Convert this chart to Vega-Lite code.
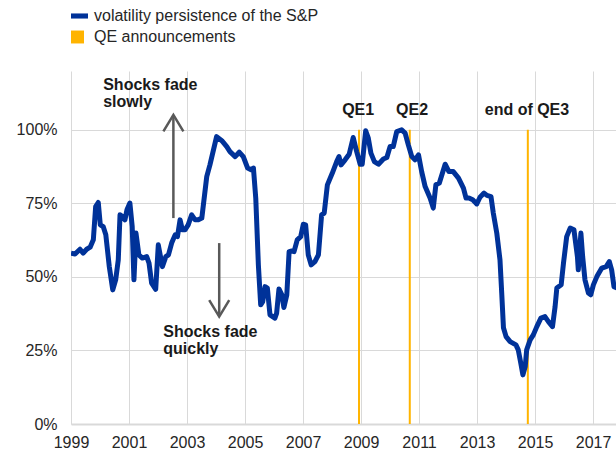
{
  "$schema": "https://vega.github.io/schema/vega-lite/v6.json",
  "width": 545,
  "height": 353,
  "autosize": {"type": "none"},
  "padding": {"left": 71, "top": 71, "right": 0, "bottom": 29},
  "background": "white",
  "config": {
    "font": "Liberation Sans",
    "view": {"stroke": null}
  },
  "datasets": {
    "series": [
      {"t":1999.00,"v":58.1},{"t":1999.14,"v":57.8},{"t":1999.31,"v":59.4},{"t":1999.42,"v":58.1},{"t":1999.54,"v":59.4},{"t":1999.66,"v":60.1},{"t":1999.77,"v":62.6},{"t":1999.85,"v":73.9},{"t":1999.94,"v":75.3},{"t":2000.01,"v":67.7},
      {"t":2000.11,"v":67.1},{"t":2000.20,"v":64.3},{"t":2000.32,"v":53.5},{"t":2000.44,"v":45.6},{"t":2000.54,"v":49.0},{"t":2000.63,"v":55.8},{"t":2000.69,"v":71.1},{"t":2000.77,"v":70.5},{"t":2000.86,"v":69.4},{"t":2000.93,"v":72.8},
      {"t":2001.03,"v":75.1},{"t":2001.11,"v":67.1},{"t":2001.17,"v":49.0},{"t":2001.24,"v":64.9},{"t":2001.34,"v":57.5},{"t":2001.46,"v":56.4},{"t":2001.61,"v":56.9},{"t":2001.69,"v":54.7},{"t":2001.78,"v":47.9},{"t":2001.92,"v":45.8},
      {"t":2002.01,"v":60.9},{"t":2002.15,"v":53.5},{"t":2002.27,"v":56.9},{"t":2002.36,"v":57.5},{"t":2002.47,"v":61.5},{"t":2002.59,"v":64.3},{"t":2002.67,"v":63.7},{"t":2002.76,"v":69.4},{"t":2002.84,"v":66.0},{"t":2002.93,"v":66.0},
      {"t":2003.04,"v":67.7},{"t":2003.16,"v":71.1},{"t":2003.28,"v":69.4},{"t":2003.39,"v":69.4},{"t":2003.51,"v":70.0},{"t":2003.68,"v":84.1},{"t":2003.79,"v":88.1},{"t":2004.02,"v":97.7},{"t":2004.20,"v":96.3},{"t":2004.37,"v":94.3},
      {"t":2004.48,"v":92.6},{"t":2004.66,"v":90.9},{"t":2004.80,"v":92.4},{"t":2004.94,"v":90.9},{"t":2005.09,"v":87.0},{"t":2005.21,"v":86.4},{"t":2005.29,"v":87.0},{"t":2005.37,"v":76.8},{"t":2005.46,"v":54.1},{"t":2005.54,"v":40.5},
      {"t":2005.61,"v":41.6},{"t":2005.69,"v":46.7},{"t":2005.77,"v":46.2},{"t":2005.86,"v":37.1},{"t":2006.03,"v":36.0},{"t":2006.09,"v":37.7},{"t":2006.17,"v":45.9},{"t":2006.27,"v":43.9},{"t":2006.34,"v":39.6},{"t":2006.44,"v":43.9},
      {"t":2006.52,"v":58.6},{"t":2006.61,"v":58.8},{"t":2006.69,"v":58.6},{"t":2006.80,"v":62.6},{"t":2006.92,"v":63.7},{"t":2007.01,"v":67.9},{"t":2007.09,"v":67.7},{"t":2007.18,"v":57.5},{"t":2007.28,"v":54.1},{"t":2007.41,"v":55.2},
      {"t":2007.53,"v":57.5},{"t":2007.64,"v":71.1},{"t":2007.73,"v":71.7},{"t":2007.84,"v":81.3},{"t":2008.01,"v":85.3},{"t":2008.16,"v":89.2},{"t":2008.24,"v":90.9},{"t":2008.31,"v":88.1},{"t":2008.45,"v":89.8},{"t":2008.59,"v":91.7},
      {"t":2008.73,"v":97.4},{"t":2008.85,"v":92.6},{"t":2008.97,"v":88.3},{"t":2009.04,"v":88.3},{"t":2009.16,"v":99.7},{"t":2009.25,"v":97.2},{"t":2009.34,"v":92.1},{"t":2009.46,"v":89.2},{"t":2009.60,"v":88.3},{"t":2009.77,"v":90.1},
      {"t":2009.89,"v":90.6},{"t":2010.00,"v":94.3},{"t":2010.11,"v":94.3},{"t":2010.23,"v":99.4},{"t":2010.40,"v":100.0},{"t":2010.52,"v":98.9},{"t":2010.63,"v":94.9},{"t":2010.75,"v":90.9},{"t":2010.86,"v":89.8},{"t":2010.98,"v":91.5},
      {"t":2011.09,"v":85.8},{"t":2011.21,"v":80.7},{"t":2011.38,"v":76.8},{"t":2011.49,"v":73.4},{"t":2011.58,"v":81.3},{"t":2011.70,"v":81.9},{"t":2011.90,"v":88.3},{"t":2012.03,"v":85.8},{"t":2012.18,"v":85.8},{"t":2012.36,"v":83.6},
      {"t":2012.53,"v":80.2},{"t":2012.62,"v":76.8},{"t":2012.72,"v":76.8},{"t":2012.85,"v":76.2},{"t":2012.99,"v":74.8},{"t":2013.10,"v":77.1},{"t":2013.24,"v":78.5},{"t":2013.34,"v":77.7},{"t":2013.48,"v":77.3},{"t":2013.56,"v":71.7},
      {"t":2013.68,"v":64.9},{"t":2013.79,"v":55.8},{"t":2013.85,"v":44.5},{"t":2013.91,"v":32.7},{"t":2014.00,"v":29.7},{"t":2014.14,"v":28.0},{"t":2014.34,"v":26.9},{"t":2014.42,"v":25.2},{"t":2014.51,"v":20.6},{"t":2014.58,"v":16.7},
      {"t":2014.66,"v":19.5},{"t":2014.71,"v":25.2},{"t":2014.83,"v":28.6},{"t":2014.94,"v":30.3},{"t":2015.06,"v":33.1},{"t":2015.20,"v":36.0},{"t":2015.34,"v":36.5},{"t":2015.46,"v":34.8},{"t":2015.60,"v":33.1},{"t":2015.69,"v":39.9},
      {"t":2015.75,"v":46.2},{"t":2015.90,"v":47.3},{"t":2015.98,"v":54.7},{"t":2016.09,"v":63.7},{"t":2016.21,"v":66.6},{"t":2016.34,"v":66.0},{"t":2016.46,"v":56.9},{"t":2016.49,"v":52.4},{"t":2016.58,"v":64.9},{"t":2016.64,"v":56.9},
      {"t":2016.72,"v":49.0},{"t":2016.84,"v":44.5},{"t":2016.92,"v":43.9},{"t":2017.01,"v":47.3},{"t":2017.13,"v":50.1},{"t":2017.30,"v":53.0},{"t":2017.45,"v":53.5},{"t":2017.56,"v":55.2},{"t":2017.64,"v":52.4},{"t":2017.72,"v":46.7},
      {"t":2017.83,"v":46.2}
    ],
    "qe": [
      {"t": 2008.93, "label": "QE1", "lt": 2008.9},
      {"t": 2010.68, "label": "QE2", "lt": 2010.76},
      {"t": 2014.75, "label": "end of QE3", "lt": 2014.72}
    ],
    "notes": [
      {"t": 2000.11, "v": 113.6, "text": "Shocks fade\nslowly"},
      {"t": 2002.18, "v": 29.7, "text": "Shocks fade\nquickly"}
    ],
    "arrows": [
      {"t": 2002.53, "v": 70.0, "v2": 104.5, "dir": "up"},
      {"t": 2004.11, "v": 61.5, "v2": 37.2, "dir": "down"}
    ],
    "heads": [
      {"t": 2002.53, "v": 105.1, "dir": "up"},
      {"t": 2004.11, "v": 36.5, "dir": "down"}
    ]
  },
  "layer": [
    {
      "data": {"name": "qe"},
      "mark": {"type": "rule", "strokeWidth": 2},
      "encoding": {
        "x": {
          "field": "t", "type": "quantitative",
          "scale": {"domain": [1999, 2017.79], "nice": false, "zero": false},
          "axis": {
            "title": null, "values": [1999, 2001, 2003, 2005, 2007, 2009, 2011, 2013, 2015, 2017],
            "format": "d", "grid": true, "gridColor": "#d9d9d9", "gridWidth": 1,
            "ticks": false, "domain": true, "domainColor": "#d9d9d9", "domainWidth": 2,
            "labelFontSize": 16, "labelColor": "#262626", "labelPadding": 10, "labelFlush": false, "labelOverlap": false
          }
        },
        "y": {
          "datum": 0, "type": "quantitative",
          "scale": {"domain": [0, 120], "nice": false},
          "axis": {
            "title": null, "values": [0, 25, 50, 75, 100], "labelExpr": "datum.value + '%'",
            "grid": true, "gridColor": "#d9d9d9", "gridWidth": 1,
            "ticks": false, "domain": false,
            "labelFontSize": 16, "labelColor": "#262626", "labelPadding": 14
          }
        },
        "y2": {"datum": 100},
        "color": {
          "datum": "QE announcements", "type": "nominal",
          "scale": {"domain": ["\u00a0volatility persistence of the S&P", "QE announcements"], "range": ["#003299", "#FFB400"]},
          "legend": {
            "orient": "none", "legendX": 0, "legendY": -63.5, "title": null, "padding": 0,
            "symbolSize": 289, "labelFontSize": 16, "labelColor": "#262626", "labelOffset": 6, "labelLimit": 600,
            "rowPadding": 4, "symbolStrokeWidth": 0,
            "encode": {
              "symbols": {
                "update": {
                  "shape": {"signal": "datum.value === 'QE announcements' ? 'M-1,-0.76H0.53V0.76H-1Z' : 'M-1,-0.3H1V0.3H-1Z'"},
                  "fill": {"signal": "datum.value === 'QE announcements' ? '#FFB400' : '#003299'"},
                  "stroke": {"value": "transparent"},
                  "strokeWidth": {"value": 0},
                  "opacity": {"value": 1},
                  "fillOpacity": {"value": 1}
                }
              }
            }
          }
        }
      }
    },
    {
      "data": {"name": "series"},
      "mark": {"type": "line", "strokeWidth": 5, "clip": true, "strokeJoin": "round"},
      "encoding": {
        "x": {"field": "t", "type": "quantitative", "axis": {"title": null}},
        "y": {"field": "v", "type": "quantitative", "axis": {"title": null}},
        "color": {
          "datum": "\u00a0volatility persistence of the S&P", "type": "nominal",
          "legend": {
            "orient": "none", "legendX": 0, "legendY": -63.5, "title": null, "padding": 0,
            "symbolSize": 289, "labelFontSize": 16, "labelColor": "#262626", "labelOffset": 6, "labelLimit": 600,
            "rowPadding": 4, "symbolStrokeWidth": 0,
            "encode": {
              "symbols": {
                "update": {
                  "shape": {"signal": "datum.value === 'QE announcements' ? 'M-1,-0.76H0.53V0.76H-1Z' : 'M-1,-0.3H1V0.3H-1Z'"},
                  "fill": {"signal": "datum.value === 'QE announcements' ? '#FFB400' : '#003299'"},
                  "stroke": {"value": "transparent"},
                  "strokeWidth": {"value": 0},
                  "opacity": {"value": 1},
                  "fillOpacity": {"value": 1}
                }
              }
            }
          }
        }
      }
    },
    {
      "data": {"name": "qe"},
      "mark": {"type": "text", "fontSize": 16, "fontWeight": "bold", "color": "#1a1a1a", "align": "center", "baseline": "middle"},
      "encoding": {
        "x": {"field": "lt", "type": "quantitative", "axis": {"title": null}},
        "y": {"datum": 106.8, "type": "quantitative", "axis": {"title": null}},
        "text": {"field": "label"}
      }
    },
    {
      "data": {"name": "notes"},
      "mark": {"type": "text", "fontSize": 16, "fontWeight": "bold", "color": "#1a1a1a", "align": "left", "baseline": "alphabetic", "lineBreak": "\n", "lineHeight": 17.5},
      "encoding": {
        "x": {"field": "t", "type": "quantitative", "axis": {"title": null}},
        "y": {"field": "v", "type": "quantitative", "axis": {"title": null}},
        "text": {"field": "text"}
      }
    },
    {
      "data": {"name": "arrows"},
      "mark": {"type": "rule", "strokeWidth": 2.5, "color": "#595959"},
      "encoding": {
        "x": {"field": "t", "type": "quantitative", "axis": {"title": null}},
        "y": {"field": "v", "type": "quantitative", "axis": {"title": null}},
        "y2": {"field": "v2"}
      }
    },
    {
      "data": {"name": "heads"},
      "mark": {"type": "point", "filled": false, "size": 400, "strokeWidth": 2.5, "color": "#595959", "opacity": 1},
      "encoding": {
        "x": {"field": "t", "type": "quantitative", "axis": {"title": null}},
        "y": {"field": "v", "type": "quantitative", "axis": {"title": null}},
        "shape": {
          "field": "dir", "type": "nominal",
          "scale": {"domain": ["up", "down"], "range": ["M-1,1.65L0,0L1,1.65", "M-1,-1.65L0,0L1,-1.65"]},
          "legend": null
        }
      }
    }
  ]
}
